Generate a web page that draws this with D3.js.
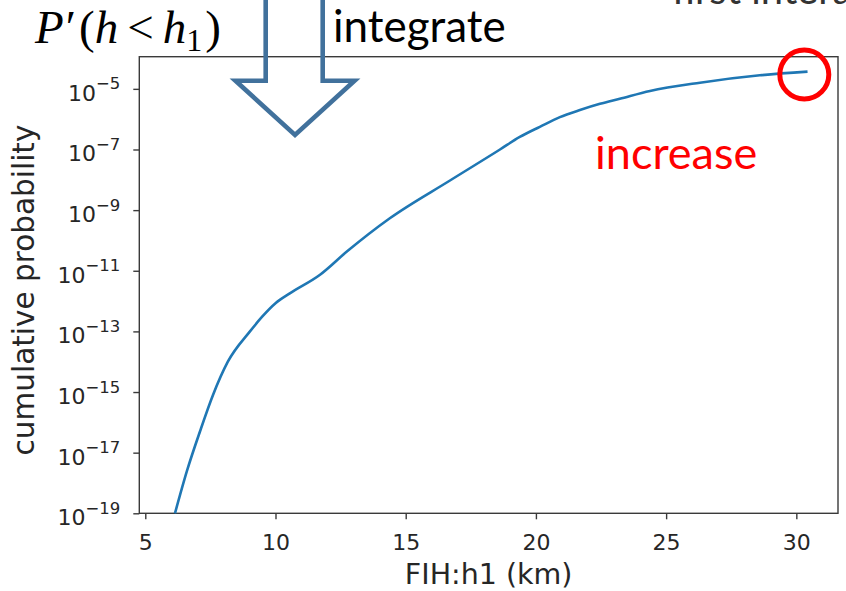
<!DOCTYPE html>
<html>
<head>
<meta charset="utf-8">
<script src="https://cdn.jsdelivr.net/npm/d3@7"></script>
<style>
  html, body { margin: 0; padding: 0; background: #fff; }
  svg { display: block; }
</style>
</head>
<body>
<svg id="chart" width="846" height="591"></svg>
<script>
// First-interaction height (km) and the cumulative probability P'(h < h1)
const heightKm = [6.14, 6.60, 7.10, 7.60, 8.17, 9.02, 9.48, 10.0, 10.55, 11.71, 12.74,
                  14.39, 16.7, 18.62, 19.38, 20.15, 20.92, 21.69, 22.46, 23.22, 24.38,
                  26.3, 28.6, 30.43];
const cumProb  = [1.0e-19, 2.5e-18, 5.0e-17, 8.0e-16, 1.0e-14, 1.0e-13, 3.0e-13, 8.5e-13,
                  1.8e-12, 7.4e-12, 4.3e-11, 5.4e-10, 9.5e-9, 1.0e-7, 2.6e-7, 5.6e-7,
                  1.17e-6, 2.0e-6, 3.2e-6, 4.7e-6, 8.5e-6,
                  1.6e-5, 2.8e-5, 3.7e-5];

const xTicks = [5, 10, 15, 20, 25, 30];
const yTickExponents = [-5, -7, -9, -11, -13, -15, -17, -19];
const xDomain = [4.77, 31.6];
const yDomain = [1e-19, 1.15e-4];

const svg = d3.select("#chart");
const plot = { left: 139.3, right: 838, top: 56.7, bottom: 513.3 };

const x = d3.scaleLinear().domain(xDomain).range([plot.left, plot.right]);
const y = d3.scaleLog().domain(yDomain).range([plot.bottom, plot.top]);

const tickFont = "'DejaVu Sans', sans-serif";

// frame
svg.append("rect")
  .attr("x", plot.left).attr("y", plot.top)
  .attr("width", plot.right - plot.left).attr("height", plot.bottom - plot.top)
  .attr("fill", "none").attr("stroke", "#3a3a3a").attr("stroke-width", 1.4);

// x axis
const xAxis = svg.append("g")
  .attr("transform", `translate(0,${plot.bottom})`)
  .call(d3.axisBottom(x).tickValues(xTicks).tickSize(6).tickPadding(5).tickFormat(d3.format("d")));
xAxis.select(".domain").remove();
xAxis.selectAll(".tick line").attr("stroke", "#3a3a3a").attr("stroke-width", 1.4);
xAxis.selectAll(".tick text")
  .attr("fill", "#262626").attr("font-family", tickFont).attr("font-size", 22)
  .attr("dy", null).attr("y", 37);

// y axis (log) with superscript labels
const yAxis = svg.append("g")
  .attr("transform", `translate(${plot.left},0)`)
  .call(d3.axisLeft(y).tickValues(yTickExponents.map(e => Math.pow(10, e))).tickSize(6).tickFormat(() => ""));
yAxis.select(".domain").remove();
yAxis.selectAll(".tick line").attr("stroke", "#3a3a3a").attr("stroke-width", 1.4);
yAxis.selectAll(".tick text").remove();
yAxis.selectAll(".tick").each(function(d, i) {
  const e = yTickExponents[i];
  const t = d3.select(this).append("text")
    .attr("x", -19).attr("y", 11.5)
    .attr("text-anchor", "end")
    .attr("fill", "#262626").attr("font-family", tickFont).attr("font-size", 22);
  t.append("tspan").text("10");
  t.append("tspan").attr("font-size", 16.5).attr("dy", -11.5).text("\u2212" + Math.abs(e));
});

// axis titles
svg.append("text")
  .attr("x", (plot.left + plot.right) / 2).attr("y", 584)
  .attr("text-anchor", "middle")
  .attr("fill", "#262626").attr("font-family", tickFont).attr("font-size", 28.5)
  .text("FIH:h1 (km)");

svg.append("text")
  .attr("transform", `translate(34,${(plot.top + plot.bottom) / 2 + 5}) rotate(-90)`)
  .attr("text-anchor", "middle")
  .attr("fill", "#262626").attr("font-family", tickFont).attr("font-size", 29.5)
  .text("cumulative probability");

// curve
const line = d3.line()
  .x((d, i) => x(heightKm[i]))
  .y(d => y(d))
  .curve(d3.curveMonotoneX);

svg.append("path")
  .datum(cumProb)
  .attr("d", line)
  .attr("fill", "none")
  .attr("stroke", "#1f77b4")
  .attr("stroke-width", 2.6)
  .attr("stroke-linejoin", "round");

// annotations
const calloutFont = "Lato, 'Open Sans', sans-serif";

// caption running off the top edge
svg.append("text")
  .attr("x", 672).attr("y", 4)
  .attr("fill", "#333").attr("font-family", calloutFont).attr("font-size", 40)
  .text("first interaction height");

// P'(h < h1)
const pText = svg.append("text")
  .attr("x", 35).attr("y", 43)
  .attr("fill", "#000").attr("font-family", "'Liberation Serif', 'DejaVu Serif', serif")
  .attr("font-size", 47);
pText.append("tspan").attr("font-style", "italic").text("P");
pText.append("tspan").attr("dx", 2).text("\u2032");
pText.append("tspan").attr("dx", 3).text("(");
pText.append("tspan").attr("font-style", "italic").text("h");
pText.append("tspan").attr("dx", 9).text("<");
pText.append("tspan").attr("dx", 9).attr("font-style", "italic").text("h");
pText.append("tspan").attr("font-size", 32).attr("dy", 8).text("1");
pText.append("tspan").attr("dx", 3).attr("dy", -8).text(")");

svg.append("text")
  .attr("x", 333).attr("y", 42)
  .attr("fill", "#000").attr("font-family", calloutFont).attr("font-size", 44)
  .text("integrate");

svg.append("text")
  .attr("x", 595).attr("y", 169)
  .attr("fill", "#ff0000").attr("font-family", calloutFont).attr("font-size", 45)
  .text("increase");

// block arrow outline
const arrowPts = [[265.7, -10], [265.7, 80.8], [235.5, 80.8], [295, 135], [354.5, 80.8], [322.7, 80.8], [322.7, -10]];
svg.append("path")
  .attr("d", d3.line()(arrowPts))
  .attr("fill", "none")
  .attr("stroke", "#41719c")
  .attr("stroke-width", 4.6)
  .attr("stroke-linejoin", "miter");

// highlight ring at the end of the curve
svg.append("circle")
  .attr("cx", 804.3).attr("cy", 74.5).attr("r", 24.5)
  .attr("fill", "none").attr("stroke", "#ff0000").attr("stroke-width", 5);
</script>
</body>
</html>
